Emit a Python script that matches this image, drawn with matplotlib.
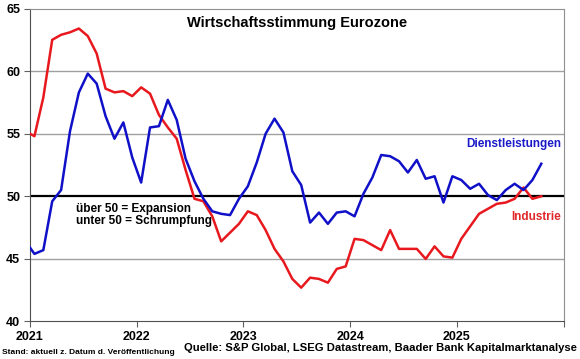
import numpy as np
import pandas as pd
import matplotlib
matplotlib.use("Agg")
import matplotlib.pyplot as plt

plt.rcParams['font.family'] = ['Liberation Sans', 'DejaVu Sans']
plt.rcParams['font.weight'] = 'bold'

# monthly PMI, Dec 2020 .. Oct 2025
months = pd.date_range("2020-12-01", "2025-10-01", freq="MS")

industrie = [55.2,
             54.8, 57.9, 62.5, 62.9, 63.1, 63.4, 62.8, 61.4, 58.6, 58.3, 58.4, 58.0,
             58.7, 58.2, 56.5, 55.5, 54.6, 52.1, 49.8, 49.6, 48.4, 46.4, 47.1, 47.8,
             48.8, 48.5, 47.3, 45.8, 44.8, 43.4, 42.7, 43.5, 43.4, 43.1, 44.2, 44.4,
             46.6, 46.5, 46.1, 45.7, 47.3, 45.8, 45.8, 45.8, 45.0, 46.0, 45.2, 45.1,
             46.6, 47.6, 48.6, 49.0, 49.4, 49.5, 49.8, 50.7, 49.8, 50.0]

dienstleistungen = [46.4,
                    45.4, 45.7, 49.6, 50.5, 55.2, 58.3, 59.8, 59.0, 56.4, 54.6, 55.9, 53.1,
                    51.1, 55.5, 55.6, 57.7, 56.1, 53.0, 51.2, 49.8, 48.8, 48.6, 48.5, 49.8,
                    50.8, 52.7, 55.0, 56.2, 55.1, 52.0, 50.9, 47.9, 48.7, 47.8, 48.7, 48.8,
                    48.4, 50.2, 51.5, 53.3, 53.2, 52.8, 51.9, 52.9, 51.4, 51.6, 49.5, 51.6,
                    51.3, 50.6, 51.0, 50.1, 49.7, 50.5, 51.0, 50.5, 51.3, 52.6]

years = [2021, 2022, 2023, 2024, 2025, 2026]

# x in years, points at mid-month
x = np.array([d.year + (d.month - 0.5) / 12 for d in months])

fig = plt.figure(figsize=(5.8, 3.59), dpi=100)
ax = fig.add_axes([0.0517, 0.1045, 0.9199, 0.8718])

for yv in [45, 55, 60]:
    ax.axhline(yv, color='#a0a0a0', lw=1.0, zorder=1)
ax.axhline(50, color='black', lw=1.6, zorder=2)

ax.plot(x, industrie, color='#e8191e', lw=1.8, zorder=3)
ax.plot(x, dienstleistungen, color='#1010c8', lw=1.8, zorder=4)

ax.set_xlim(2021, 2026)
ax.set_ylim(40, 65)
ax.set_yticks([40, 45, 50, 55, 60, 65])
ax.set_xticks(years)
ax.set_xticklabels([str(y) for y in years[:-1]] + [""])
ax.tick_params(axis='both', labelsize=9, length=4, width=0.8, color='#606060', pad=3)

for s in ['left', 'bottom']:
    ax.spines[s].set_color('#505050')
for s in ['top', 'right']:
    ax.spines[s].set_color('#909090')

ax.text(0.5, 0.955, "Wirtschaftsstimmung Eurozone", transform=ax.transAxes,
        ha='center', va='center', fontsize=10.5, fontweight='bold')
ax.text(0.996, 0.566, "Dienstleistungen", transform=ax.transAxes,
        ha='right', va='center', fontsize=8.5, fontweight='bold', color='#1a1ac8')
ax.text(0.996, 0.335, "Industrie", transform=ax.transAxes,
        ha='right', va='center', fontsize=8.5, fontweight='bold', color='#e0282a')
ax.text(0.086, 0.339, "über 50 = Expansion\nunter 50 = Schrumpfung", transform=ax.transAxes,
        ha='left', va='center', fontsize=8.5, fontweight='bold', linespacing=1.0)

fig.text(0.003, 0.018, "Stand: aktuell z. Datum d. Veröffentlichung",
         ha='left', va='center', fontsize=6, fontweight='bold')
fig.text(0.995, 0.03, "Quelle: S&P Global, LSEG Datastream, Baader Bank Kapitalmarktanalyse",
         ha='right', va='center', fontsize=8.1, fontweight='bold')

fig.savefig("out.png", dpi=100)
